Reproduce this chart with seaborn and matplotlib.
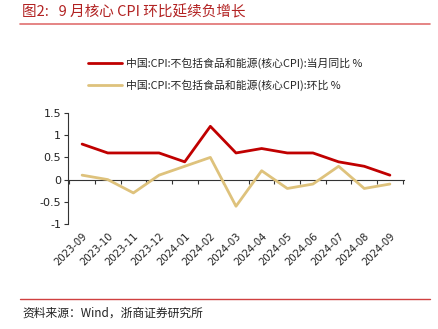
import matplotlib
matplotlib.use("Agg")
import matplotlib.pyplot as plt
from matplotlib.lines import Line2D
import seaborn as sns
import pandas as pd

months = ["2023-09", "2023-10", "2023-11", "2023-12", "2024-01", "2024-02", "2024-03",
          "2024-04", "2024-05", "2024-06", "2024-07", "2024-08", "2024-09"]
yoy = [0.8, 0.6, 0.6, 0.6, 0.4, 1.2, 0.6, 0.7, 0.6, 0.6, 0.4, 0.3, 0.1]
mom = [0.1, 0.0, -0.3, 0.1, 0.3, 0.5, -0.6, 0.2, -0.2, -0.1, 0.3, -0.2, -0.1]
name_yoy = "中国:CPI:不包括食品和能源(核心CPI):当月同比 %"
name_mom = "中国:CPI:不包括食品和能源(核心CPI):环比 %"
title = "图2:   9 月核心 CPI 环比延续负增长"
source = "资料来源：Wind，浙商证券研究所"
yticks = [1.5, 1, 0.5, 0, -0.5, -1]
ytick_labels = ["1.5", "1", "0.5", "0", "-0.5", "-1"]

sns.set_style("white")
plt.rcParams['font.family'] = ['Noto Sans CJK SC', 'DejaVu Sans']

df = pd.DataFrame({
    "month": months * 2,
    "value": yoy + mom,
    "series": [name_yoy] * len(months) + [name_mom] * len(months),
})

fig = plt.figure(figsize=(4.39, 3.29), dpi=100)
ax = fig.add_axes([68 / 439, 1 - 224 / 329, (404 - 68) / 439, (224 - 113) / 329])

palette = {name_yoy: "#C00000", name_mom: "#DEC27C"}
sns.lineplot(data=df, x="month", y="value", hue="series", palette=palette,
             linewidth=2.0, sort=False, ax=ax, legend=False)

ax.set_xlim(-0.55, len(months) - 0.45)
ax.set_ylim(-1, 1.5)
ax.set_yticks(yticks)
ax.set_yticklabels(ytick_labels, fontsize=8, family="DejaVu Sans", color="#222222")
ax.set_xticks(range(len(months)))
ax.set_xticklabels(months, rotation=45, ha="right", rotation_mode="anchor",
                   fontsize=7.2, family="DejaVu Sans", color="#222222")
ax.tick_params(axis="x", length=0, pad=5)
ax.tick_params(axis="y", length=3, width=0.8, direction="out", left=True, color="#333333", pad=2)
ax.set_xlabel("")
ax.set_ylabel("")
for s in ["top", "right", "bottom"]:
    ax.spines[s].set_visible(False)
ax.spines["left"].set_color("#333333")
ax.spines["left"].set_linewidth(0.8)

# zero axis with tick marks between categories
zero_frac = (0 - (-1)) / (1.5 - (-1))
sec = ax.secondary_xaxis(zero_frac)
sec.set_xticks([i + 0.5 for i in range(-1, len(months))])
sec.tick_params(axis="x", length=3, width=0.8, direction="out", color="#333333", labelbottom=False)
sec.set_xticklabels([])
sec.spines["bottom"].set_color("#333333")
sec.spines["bottom"].set_linewidth(0.8)

handles = [Line2D([], [], color=palette[name_yoy], lw=2.0),
           Line2D([], [], color=palette[name_mom], lw=2.0)]
fig.legend(handles, [name_yoy, name_mom], loc="upper left",
           bbox_to_anchor=(84 / 439, 1 - 53 / 329), frameon=False, fontsize=7.8,
           handlelength=3.1, handletextpad=0.4, labelspacing=1.0, borderaxespad=0)

fig.text(22 / 439, 1 - 12 / 329, title, fontsize=10.5, color="#B22222",
         ha="left", va="center")
fig.add_artist(Line2D([20 / 439, 430 / 439], [1 - 24 / 329, 1 - 24 / 329],
                      color="#E07070", lw=1.2, transform=fig.transFigure))
fig.add_artist(Line2D([20 / 439, 430 / 439], [1 - 299 / 329, 1 - 299 / 329],
                      color="#D04040", lw=1.0, transform=fig.transFigure))
fig.text(22 / 439, 1 - 313 / 329, source, fontsize=8.5, color="#222222",
         ha="left", va="center")

fig.savefig("out.png", dpi=100)
